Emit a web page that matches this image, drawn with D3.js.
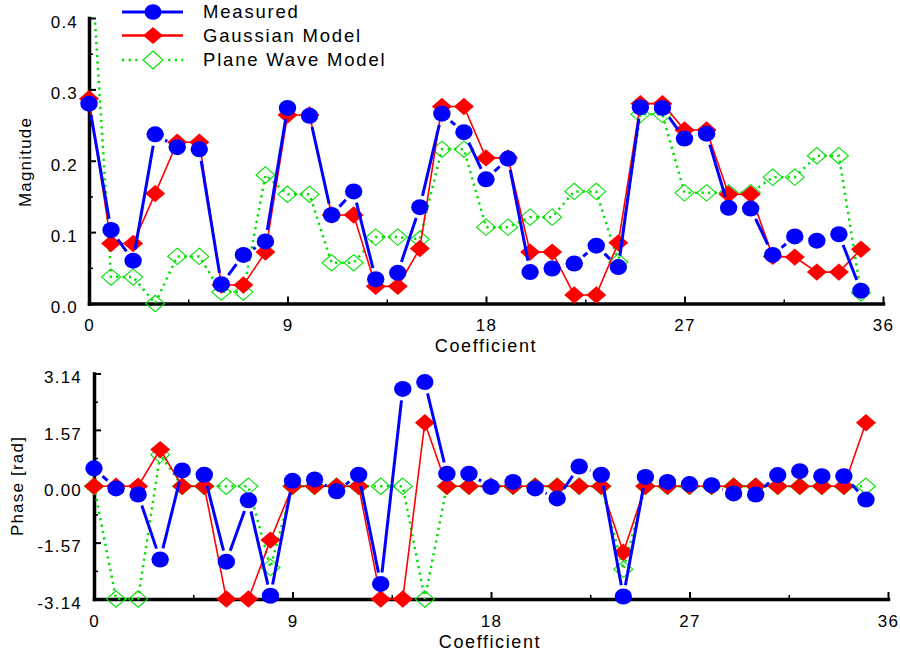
<!DOCTYPE html>
<html><head><meta charset="utf-8">
<script src="https://cdn.jsdelivr.net/npm/d3@7"></script>
<style>
body{margin:0;background:#fff}
svg{display:block}
text{font-family:"Liberation Sans",Arial,Helvetica,sans-serif;fill:#000}
</style>
</head><body>
<svg id="chart" width="900" height="655"></svg>
<script>
// ---------------- data ----------------
const coefficient = [0,1,2,3,4,5,6,7,8,9,10,11,12,13,14,15,16,17,18,19,20,21,22,23,24,25,26,27,28,29,30,31,32,33,34,35];
const seriesNames = ["Measured","Gaussian Model","Plane Wave Model"];

const magMeasured  = [0.280,0.103,0.060,0.237,0.219,0.216,0.027,0.068,0.087,0.274,0.263,0.124,0.157,0.034,0.043,0.135,0.266,0.240,0.174,0.203,0.044,0.049,0.056,0.081,0.051,0.275,0.274,0.231,0.238,0.134,0.133,0.068,0.094,0.088,0.097,0.018];
const magGaussian  = [0.287,0.084,0.084,0.154,0.226,0.226,0.026,0.026,0.072,0.264,0.264,0.124,0.124,0.024,0.024,0.077,0.276,0.276,0.204,0.204,0.072,0.072,0.012,0.012,0.085,0.280,0.280,0.243,0.243,0.153,0.153,0.066,0.065,0.044,0.044,0.076];
const magPlaneWave = [0.530,0.037,0.037,0.000,0.066,0.066,0.016,0.016,0.180,0.153,0.153,0.057,0.057,0.093,0.093,0.090,0.216,0.216,0.107,0.107,0.121,0.121,0.157,0.157,0.058,0.265,0.265,0.155,0.155,0.155,0.155,0.177,0.177,0.207,0.207,0.015];

const phaseMeasured  = [0.50,-0.06,-0.23,-2.04,0.44,0.32,-2.10,-0.39,-3.05,0.15,0.19,-0.14,0.32,-2.72,2.71,2.90,0.35,0.35,-0.02,0.12,-0.06,-0.34,0.55,0.32,-3.07,0.26,0.12,0.06,0.03,-0.20,-0.23,0.31,0.42,0.28,0.28,-0.37];
const phaseGaussian  = [0,0,0,1.02,0,0,-3.14,-3.14,-1.50,0,0,0,0,-3.14,-3.14,1.77,0,0,0,0,0,0,0,0,-1.84,0,0,0,0,0,0,0,0,0,0,1.77];
const phasePlaneWave = [0,-3.14,-3.14,0.88,0,0,0,0,-2.26,0,0,0,0,0,0,-3.14,0,0,0,0,0,0,0,0,-2.31,0,0,0,0,0,0,0,0,0,0,0];

const xTicks = [0,9,18,27,36];
const xMinorTicks = [4.5,13.5,22.5,31.5];
const magTicks = [0,0.1,0.2,0.3,0.4];
const magMinorTicks = [0.05,0.15,0.25,0.35];
const phaseTicks = [-3.14,-1.57,0,1.57,3.14];
const phaseTickLabels = ["-3.14","-1.57","0.00","1.57","3.14"];
const phaseMinorTicks = [-2.355,-0.785,0.785,2.355];

// ---------------- styles ----------------
const BLUE = "#0000ff", RED = "#ff0000", GREEN = "#00e000";
const svg = d3.select("#chart");

function diamondPath(cx, cy, hw, hh){
  return `M${cx},${cy-hh}L${cx+hw},${cy}L${cx},${cy+hh}L${cx-hw},${cy}Z`;
}

function drawPanel(cfg){
  const g = svg.append("g");
  const x = cfg.x, y = cfg.y;
  const [x0, x1] = x.range();
  const [yb, yt] = y.range();

  // minor ticks
  g.append("g").attr("transform",`translate(0,${yb})`)
    .call(d3.axisBottom(x).tickValues(xMinorTicks).tickSize(-4).tickSizeOuter(0).tickFormat(""))
    .call(a=>{a.select(".domain").remove(); a.selectAll("line").attr("stroke","#000").attr("stroke-width",1.5);});
  g.append("g").attr("transform",`translate(${x0},0)`)
    .call(d3.axisLeft(y).tickValues(cfg.yMinor).tickSize(-4).tickSizeOuter(0).tickFormat(""))
    .call(a=>{a.select(".domain").remove(); a.selectAll("line").attr("stroke","#000").attr("stroke-width",1.5);});

  // major x axis
  const ax = g.append("g").attr("transform",`translate(0,${yb})`)
    .call(d3.axisBottom(x).tickValues(xTicks).tickSize(-7).tickSizeOuter(0).tickPadding(cfg.xPad));
  ax.select(".domain").attr("stroke","#000").attr("stroke-width",3.5).attr("stroke-linecap","square");
  ax.selectAll(".tick line").attr("stroke","#000").attr("stroke-width",2);
  ax.selectAll(".tick text").attr("font-size","17px").attr("letter-spacing","1.2px")
    .attr("font-family",'"Liberation Sans",Arial,sans-serif').attr("fill","#000").attr("dy","0.71em");

  // major y axis
  const ay = g.append("g").attr("transform",`translate(${x0},0)`)
    .call(d3.axisLeft(y).tickValues(cfg.yTicks).tickSize(-7).tickSizeOuter(0).tickPadding(cfg.yPad).tickFormat(cfg.yFormat));
  ay.select(".domain").attr("stroke","#000").attr("stroke-width",3.5).attr("stroke-linecap","square");
  ay.selectAll(".tick line").attr("stroke","#000").attr("stroke-width",2);
  ay.selectAll(".tick text").attr("font-size","17px").attr("letter-spacing","1.2px")
    .attr("font-family",'"Liberation Sans",Arial,sans-serif').attr("fill","#000").attr("dy","0.55em");

  // axis titles
  g.append("text").attr("x",cfg.xTitleX).attr("y",cfg.xTitleY).attr("text-anchor","middle")
    .attr("font-size","18px").attr("letter-spacing","1.6px").text("Coefficient");
  g.append("text").attr("transform",`translate(${cfg.yTitleX},${cfg.yTitleY}) rotate(-90)`)
    .attr("text-anchor","middle").attr("font-size","17px").attr("letter-spacing","1.2px").text(cfg.yTitle);

  // clip for lines
  const clipId = "clip" + cfg.id;
  svg.append("clipPath").attr("id",clipId).append("rect")
    .attr("x",0).attr("y",yt).attr("width",900).attr("height",yb-yt+20);

  const pts = vals => coefficient.map((c,i)=>[x(c), y(vals[i])]);
  const line = d3.line();

  // Plane wave model: dotted green with open diamonds
  const pw = pts(cfg.plane);
  g.append("path").attr("d",line(pw)).attr("clip-path",`url(#${clipId})`)
    .attr("fill","none").attr("stroke",GREEN).attr("stroke-width",2.5).attr("stroke-dasharray","2.2,4.3");
  g.append("g").selectAll("path").data(pw.filter(p=>p[1]>=yt-1)).join("path")
    .attr("d",p=>diamondPath(p[0],p[1],9.5,8.2)).attr("fill","none").attr("stroke",GREEN).attr("stroke-width",1.1);

  // Gaussian model: red line with filled diamonds
  const gm = pts(cfg.gauss);
  g.append("path").attr("d",line(gm)).attr("clip-path",`url(#${clipId})`)
    .attr("fill","none").attr("stroke",RED).attr("stroke-width",1.6);
  g.append("g").selectAll("path").data(gm).join("path")
    .attr("d",p=>diamondPath(p[0],p[1],10,8.7)).attr("fill",RED);

  // Measured: blue line (segments stop short of the markers) with filled circles
  const ms = pts(cfg.meas);
  const gap = 11.5;
  const segs = [];
  for(let i=0;i<ms.length-1;i++){
    const [ax0,ay0] = ms[i], [ax1,ay1] = ms[i+1];
    const L = Math.hypot(ax1-ax0, ay1-ay0);
    if (L > 2*gap + 0.5){
      const ux=(ax1-ax0)/L, uy=(ay1-ay0)/L;
      segs.push([[ax0+ux*gap, ay0+uy*gap],[ax1-ux*gap, ay1-uy*gap]]);
    }
  }
  g.append("g").selectAll("path").data(segs).join("path")
    .attr("d",s=>line(s)).attr("fill","none").attr("stroke",BLUE).attr("stroke-width",3);
  g.append("g").selectAll("ellipse").data(ms).join("ellipse")
    .attr("cx",p=>p[0]).attr("cy",p=>p[1]).attr("rx",8.7).attr("ry",8).attr("fill",BLUE);
}

// ---------------- magnitude panel ----------------
drawPanel({
  id:"mag",
  x: d3.scaleLinear().domain([0,36]).range([89,883]),
  y: d3.scaleLinear().domain([0,0.4]).range([303.5,18]),
  yTicks: magTicks, yMinor: magMinorTicks, yFormat: d3.format(".1f"),
  meas: magMeasured, gauss: magGaussian, plane: magPlaneWave,
  xPad: 15, yPad: 11,
  xTitleX: 486, xTitleY: 352, yTitleX: 31, yTitleY: 162, yTitle: "Magnitude"
});

// ---------------- phase panel ----------------
drawPanel({
  id:"phase",
  x: d3.scaleLinear().domain([0,36]).range([94,888]),
  y: d3.scaleLinear().domain([-3.14,3.14]).range([599,373.5]),
  yTicks: phaseTicks, yMinor: phaseMinorTicks, yFormat: (d,i)=>phaseTickLabels[i],
  meas: phaseMeasured, gauss: phaseGaussian, plane: phasePlaneWave,
  xPad: 16, yPad: 12,
  xTitleX: 490, xTitleY: 648, yTitleX: 23, yTitleY: 486, yTitle: "Phase [rad]"
});

// ---------------- legend ----------------
const legend = svg.append("g");
const legendRows = [
  {name: seriesNames[0], y: 12, color: BLUE},
  {name: seriesNames[1], y: 35.5, color: RED},
  {name: seriesNames[2], y: 60, color: GREEN}
];
legendRows.forEach((r,i)=>{
  if(i===0){
    legend.append("line").attr("x1",122).attr("x2",183).attr("y1",r.y).attr("y2",r.y).attr("stroke",BLUE).attr("stroke-width",3);
    legend.append("ellipse").attr("cx",153).attr("cy",r.y).attr("rx",8.5).attr("ry",7.8).attr("fill",BLUE);
  } else if(i===1){
    legend.append("line").attr("x1",122).attr("x2",183).attr("y1",r.y).attr("y2",r.y).attr("stroke",RED).attr("stroke-width",2.6);
    legend.append("path").attr("d",diamondPath(153,r.y,10,8.5)).attr("fill",RED);
  } else {
    legend.append("line").attr("x1",122).attr("x2",183).attr("y1",r.y).attr("y2",r.y).attr("stroke",GREEN).attr("stroke-width",2.5).attr("stroke-dasharray","2.2,4.4");
    legend.append("rect").attr("x",142).attr("y",r.y-10).attr("width",22).attr("height",20).attr("fill","#fff");
    legend.append("path").attr("d",diamondPath(153,r.y,10,9)).attr("fill","none").attr("stroke",GREEN).attr("stroke-width",1.1);
  }
  legend.append("text").attr("x",203).attr("y",r.y+6.3).attr("font-size","18.5px").attr("letter-spacing","1.8px").text(r.name);
});
</script>
</body></html>
